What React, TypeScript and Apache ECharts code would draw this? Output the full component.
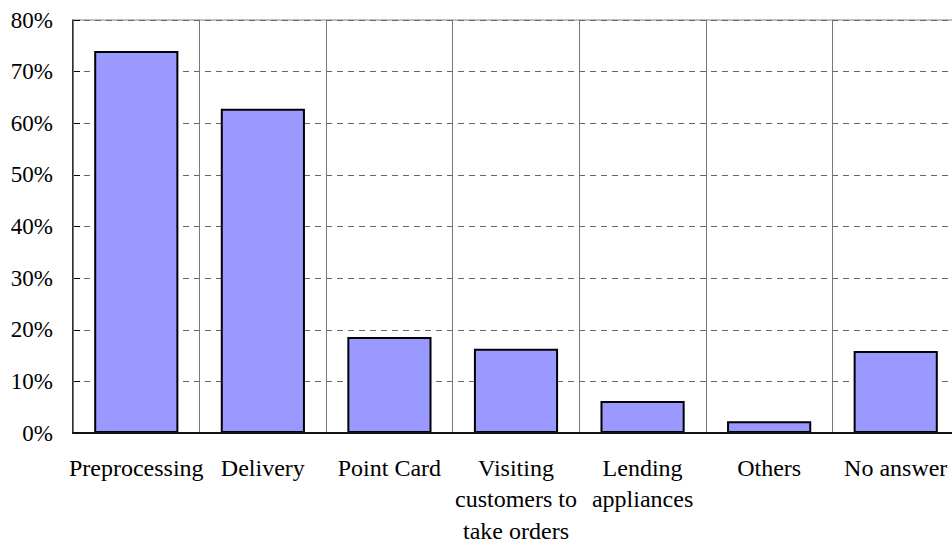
import React, { useEffect, useRef } from "react";
import * as echarts from "echarts";

const categories = [
  "Preprocessing",
  "Delivery",
  "Point Card",
  "Visiting\ncustomers to\ntake orders",
  "Lending\nappliances",
  "Others",
  "No answer",
];
const values = [74.0, 62.8, 18.6, 16.3, 6.2, 2.3, 15.9];
const yMin = 0;
const yMax = 80;
const yInterval = 10;

export default function App() {
  const ref = useRef<HTMLDivElement>(null);
  useEffect(() => {
    if (!ref.current) return;
    const chart = echarts.init(ref.current, undefined, { renderer: "svg" });
    const font = "'Liberation Serif', 'Times New Roman', serif";
    chart.setOption({
      animation: false,
      backgroundColor: "#ffffff",
      grid: {
        left: 73,
        top: 20,
        width: 886,
        height: 413,
        show: true,
        borderColor: "#808080",
        borderWidth: 1,
        containLabel: false,
        outerBoundsMode: "none",
      },
      xAxis: {
        type: "category",
        data: categories,
        boundaryGap: true,
        axisLine: { show: true, lineStyle: { color: "#111", width: 2 } },
        axisTick: { show: false },
        splitLine: { show: true, lineStyle: { color: "#777", width: 1 } },
        axisLabel: {
          interval: 0,
          fontFamily: font,
          fontSize: 24,
          lineHeight: 31.5,
          color: "#000",
          margin: 19,
        },
        z: 5,
      },
      yAxis: {
        type: "value",
        min: yMin,
        max: yMax,
        interval: yInterval,
        axisLine: { show: true, lineStyle: { color: "#000", width: 1.5 } },
        axisTick: { show: true, inside: true, length: 7, lineStyle: { color: "#000", width: 1 } },
        splitLine: {
          show: true,
          lineStyle: { color: "#666", width: 1, type: [6, 5] },
        },
        axisLabel: {
          formatter: "{value}%",
          fontFamily: font,
          fontSize: 23,
          color: "#000",
          margin: 20,
        },
      },
      series: [
        {
          type: "bar",
          data: values,
          barCategoryGap: "33.5%",
          itemStyle: { color: "#9999FF", borderColor: "#000", borderWidth: 2 },
          z: 3,
        },
      ],
    });
    return () => chart.dispose();
  }, []);
  return (
    <div style={{ position: "absolute", left: 0, top: 0, width: 952, height: 545, overflow: "hidden" }}>
      <div ref={ref} style={{ position: "absolute", left: 0, top: 0, width: 970, height: 545 }} />
    </div>
  );
}
